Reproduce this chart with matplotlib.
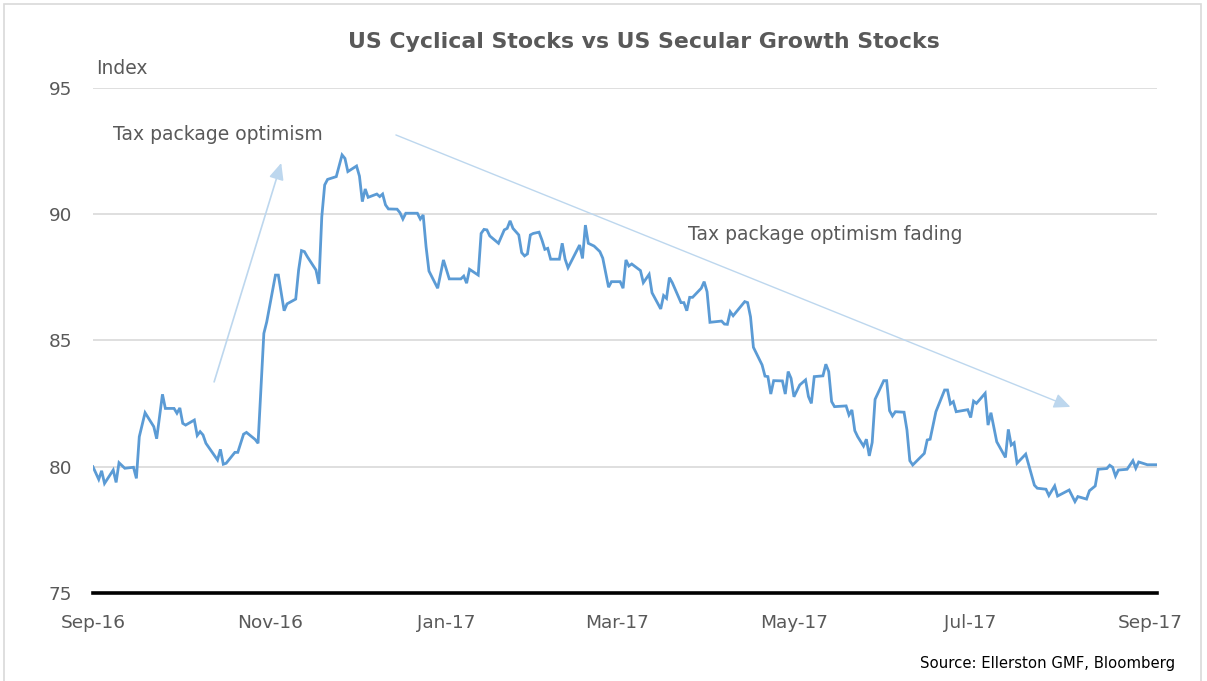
import matplotlib
matplotlib.use("Agg")
import matplotlib.pyplot as plt
import matplotlib.dates as mdates
import pandas as pd
from matplotlib.patches import Rectangle

# cyclical / secular growth ratio, turning points of the daily series
dates = [
    "2016-09-01", "2016-09-03", "2016-09-04", "2016-09-05", "2016-09-08", "2016-09-09",
    "2016-09-10", "2016-09-12", "2016-09-15", "2016-09-16", "2016-09-17", "2016-09-19",
    "2016-09-22", "2016-09-23", "2016-09-25", "2016-09-26", "2016-09-29", "2016-09-30",
    "2016-10-01", "2016-10-02", "2016-10-03", "2016-10-06", "2016-10-07", "2016-10-08",
    "2016-10-09", "2016-10-10", "2016-10-12", "2016-10-14", "2016-10-15", "2016-10-16",
    "2016-10-17", "2016-10-20", "2016-10-21", "2016-10-23", "2016-10-24", "2016-10-27",
    "2016-10-28", "2016-10-30", "2016-10-31", "2016-11-03", "2016-11-04", "2016-11-06",
    "2016-11-07", "2016-11-10", "2016-11-11", "2016-11-12", "2016-11-13", "2016-11-14",
    "2016-11-17", "2016-11-18", "2016-11-19", "2016-11-20", "2016-11-21", "2016-11-24",
    "2016-11-26", "2016-11-27", "2016-11-28", "2016-12-01", "2016-12-02", "2016-12-03",
    "2016-12-04", "2016-12-05", "2016-12-08", "2016-12-09", "2016-12-10", "2016-12-11",
    "2016-12-12", "2016-12-15", "2016-12-16", "2016-12-17", "2016-12-18", "2016-12-22",
    "2016-12-23", "2016-12-24", "2016-12-25", "2016-12-26", "2016-12-29", "2016-12-31",
    "2017-01-02", "2017-01-06", "2017-01-07", "2017-01-08", "2017-01-09", "2017-01-12",
    "2017-01-13", "2017-01-14", "2017-01-15", "2017-01-16", "2017-01-19", "2017-01-21",
    "2017-01-22", "2017-01-23", "2017-01-24", "2017-01-26", "2017-01-27", "2017-01-28",
    "2017-01-29", "2017-01-30", "2017-01-31", "2017-02-02", "2017-02-03", "2017-02-04",
    "2017-02-05", "2017-02-06", "2017-02-09", "2017-02-10", "2017-02-11", "2017-02-12",
    "2017-02-16", "2017-02-17", "2017-02-18", "2017-02-19", "2017-02-21", "2017-02-23",
    "2017-02-24", "2017-02-26", "2017-02-27", "2017-03-02", "2017-03-03", "2017-03-04",
    "2017-03-05", "2017-03-06", "2017-03-09", "2017-03-10", "2017-03-12", "2017-03-13",
    "2017-03-16", "2017-03-17", "2017-03-18", "2017-03-19", "2017-03-20", "2017-03-23",
    "2017-03-24", "2017-03-25", "2017-03-26", "2017-03-27", "2017-03-30", "2017-03-31",
    "2017-04-01", "2017-04-02", "2017-04-06", "2017-04-07", "2017-04-08", "2017-04-09",
    "2017-04-10", "2017-04-14", "2017-04-15", "2017-04-16", "2017-04-17", "2017-04-20",
    "2017-04-21", "2017-04-22", "2017-04-23", "2017-04-24", "2017-04-27", "2017-04-28",
    "2017-04-29", "2017-04-30", "2017-05-01", "2017-05-03", "2017-05-05", "2017-05-06",
    "2017-05-07", "2017-05-08", "2017-05-11", "2017-05-12", "2017-05-13", "2017-05-14",
    "2017-05-15", "2017-05-19", "2017-05-20", "2017-05-21", "2017-05-22", "2017-05-23",
    "2017-05-25", "2017-05-26", "2017-05-27", "2017-05-28", "2017-05-29", "2017-06-01",
    "2017-06-02", "2017-06-03", "2017-06-04", "2017-06-05", "2017-06-08", "2017-06-09",
    "2017-06-10", "2017-06-11", "2017-06-15", "2017-06-16", "2017-06-17", "2017-06-19",
    "2017-06-22", "2017-06-23", "2017-06-24", "2017-06-25", "2017-06-26", "2017-06-30",
    "2017-07-01", "2017-07-02", "2017-07-03", "2017-07-06", "2017-07-07", "2017-07-08",
    "2017-07-10", "2017-07-13", "2017-07-14", "2017-07-15", "2017-07-16", "2017-07-17",
    "2017-07-20", "2017-07-23", "2017-07-24", "2017-07-27", "2017-07-28", "2017-07-30",
    "2017-07-31", "2017-08-04", "2017-08-06", "2017-08-07", "2017-08-10", "2017-08-11",
    "2017-08-13", "2017-08-14", "2017-08-17", "2017-08-18", "2017-08-19", "2017-08-20",
    "2017-08-21", "2017-08-24", "2017-08-26", "2017-08-27", "2017-08-28", "2017-08-31",
    "2017-09-03",
]
index_vals = [
    80.00, 79.50, 79.84, 79.34, 79.87, 79.38,
    80.16, 79.94, 79.98, 79.54, 81.19, 82.14,
    81.59, 81.11, 82.87, 82.31, 82.31, 82.12,
    82.33, 81.72, 81.65, 81.85, 81.24, 81.39,
    81.26, 80.93, 80.60, 80.27, 80.69, 80.10,
    80.14, 80.57, 80.57, 81.29, 81.36, 81.08,
    80.93, 85.28, 85.74, 87.59, 87.59, 86.18,
    86.45, 86.64, 87.79, 88.56, 88.52, 88.32,
    87.79, 87.24, 89.90, 91.16, 91.38, 91.49,
    92.35, 92.21, 91.69, 91.91, 91.51, 90.50,
    91.00, 90.67, 90.80, 90.70, 90.80, 90.37,
    90.21, 90.20, 90.06, 89.81, 90.04, 90.04,
    89.81, 89.97, 88.71, 87.75, 87.07, 88.19,
    87.44, 87.44, 87.55, 87.27, 87.82, 87.59,
    89.24, 89.40, 89.38, 89.14, 88.85, 89.38,
    89.44, 89.74, 89.44, 89.18, 88.48, 88.35,
    88.43, 89.18, 89.24, 89.29, 88.98, 88.61,
    88.65, 88.22, 88.22, 88.85, 88.22, 87.88,
    88.78, 88.25, 89.57, 88.85, 88.74, 88.52,
    88.26, 87.11, 87.33, 87.33, 87.07, 88.19,
    87.95, 88.03, 87.77, 87.29, 87.62, 86.89,
    86.25, 86.78, 86.67, 87.49, 87.29, 86.50,
    86.50, 86.18, 86.71, 86.71, 87.07, 87.33,
    86.93, 85.72, 85.77, 85.65, 85.64, 86.14,
    85.98, 86.54, 86.50, 85.94, 84.73, 84.03,
    83.59, 83.57, 82.88, 83.41, 83.40, 82.88,
    83.77, 83.50, 82.77, 83.24, 83.44, 82.78,
    82.51, 83.57, 83.60, 84.06, 83.77, 82.58,
    82.38, 82.41, 82.05, 82.25, 81.43, 81.19,
    80.82, 81.09, 80.43, 80.96, 82.67, 83.41,
    83.41, 82.22, 82.01, 82.18, 82.16, 81.46,
    80.24, 80.07, 80.53, 81.06, 81.09, 82.18,
    83.04, 83.04, 82.49, 82.58, 82.18, 82.26,
    81.95, 82.60, 82.51, 82.91, 81.65, 82.14,
    80.99, 80.37, 81.48, 80.86, 80.95, 80.14,
    80.50, 79.27, 79.15, 79.11, 78.86, 79.24,
    78.84, 79.08, 78.62, 78.82, 78.72, 79.05,
    79.24, 79.90, 79.93, 80.06, 79.98, 79.63,
    79.87, 79.90, 80.24, 79.94, 80.19, 80.08,
    80.08,
]
tick_dates = ["2016-09-01", "2016-11-01", "2017-01-01", "2017-03-01",
              "2017-05-01", "2017-07-01", "2017-09-01"]
y_ticks = [75, 80, 85, 90, 95]

grey_txt = "#595959"
line_blue = "#5b9bd5"
arrow_blue = "#bdd7ee"

x = pd.to_datetime(dates)

fig = plt.figure(figsize=(12.07, 6.81), dpi=100)
ax = fig.add_axes([0.077, 0.1292, 0.8816, 0.7416])

ax.plot(x, index_vals, color=line_blue, lw=2.0, solid_joinstyle="miter", zorder=3)

ax.set_ylim(75, 95)
ax.set_yticks(y_ticks)
ax.set_xlim(pd.Timestamp("2016-09-01"), pd.Timestamp("2017-09-03 08:00"))
ax.set_xticks(pd.to_datetime(tick_dates))
ax.xaxis.set_major_formatter(mdates.DateFormatter("%b-%y"))

for v in y_ticks[1:]:
    ax.axhline(v, color="#d9d9d9", lw=1.2, zorder=1)
ax.axhline(75, color="black", lw=2.6, zorder=4, clip_on=False)

for s in ax.spines.values():
    s.set_visible(False)
ax.tick_params(axis="both", length=0, labelsize=13.3, labelcolor=grey_txt)
ax.tick_params(axis="x", pad=15)
ax.tick_params(axis="y", pad=15)

fig.text(0.5335, 0.938, "US Cyclical Stocks vs US Secular Growth Stocks",
         ha="center", va="center", fontsize=15.8, fontweight="bold", color=grey_txt)
fig.text(0.080, 0.900, "Index", ha="left", va="center", fontsize=13.5, color=grey_txt)
fig.text(0.974, 0.025, "Source: Ellerston GMF, Bloomberg", ha="right", va="center",
         fontsize=10.7, color="black")

# trend arrows and their captions
ax.annotate("", xy=(pd.Timestamp("2016-11-05"), 92.03),
            xytext=(pd.Timestamp("2016-10-12 20:00"), 83.36),
            arrowprops=dict(arrowstyle="-|>,head_length=1.0,head_width=0.45",
                            color=arrow_blue, lw=1.2, shrinkA=0, shrinkB=0))
ax.annotate("", xy=(pd.Timestamp("2017-08-04 10:00"), 82.37),
            xytext=(pd.Timestamp("2016-12-14 14:00"), 93.14),
            arrowprops=dict(arrowstyle="-|>,head_length=1.0,head_width=0.45",
                            color=arrow_blue, lw=1.0, shrinkA=0, shrinkB=0))
ax.text(pd.Timestamp("2016-09-08"), 93.15, "Tax package optimism",
        ha="left", va="center", fontsize=13.5, color=grey_txt)
ax.text(pd.Timestamp("2017-03-25 12:00"), 89.2, "Tax package optimism fading",
        ha="left", va="center", fontsize=13.5, color=grey_txt)

fig.patches.append(Rectangle((0.003, -0.01), 0.992, 1.004, transform=fig.transFigure,
                             fill=False, edgecolor="#d9d9d9", lw=1.2))

fig.savefig("out.png", dpi=100)
